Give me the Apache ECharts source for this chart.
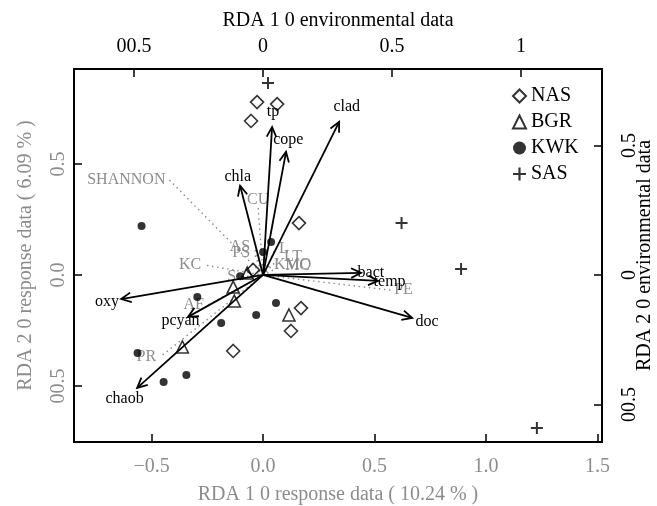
<!DOCTYPE html>
<html>
<head>
<meta charset="utf-8">
<script src="https://cdn.jsdelivr.net/npm/echarts@6.0.0/dist/echarts.min.js"></script>
<style>
  html, body { margin: 0; background: #fff; overflow: hidden; }
  #chart { width: 657px; height: 506px; }
</style>
</head>
<body>
<div id="chart"></div>
<script>
// site scores, response scale (bottom / left axes)
var nasPts = [[-0.027, 0.779], [0.063, 0.770], [-0.054, 0.694], [0.161, 0.234], [-0.045, 0.023], [0.170, -0.149], [0.125, -0.252], [-0.134, -0.342]]
var bgrPts = [[-0.071, 0.009], [-0.134, -0.054], [-0.129, -0.117], [0.116, -0.180], [-0.362, -0.324]]
var kwkPts = [[-0.545, 0.221], [0.036, 0.149], [0.0, 0.104], [-0.103, -0.005], [-0.295, -0.099], [0.058, -0.126], [-0.031, -0.180], [-0.188, -0.216], [-0.563, -0.351], [-0.344, -0.450], [-0.446, -0.482]]
var sasPts = [[0.022, 0.865], [0.621, 0.234], [0.888, 0.027], [1.228, -0.689]]

// black arrows, environmental scale (top / right axes)
var arrowNames = ['tp', 'cope', 'clad', 'chla', 'bact', 'temp', 'doc', 'oxy', 'pcyan', 'chaob']
var arrowScores = [[0.035, 0.571], [0.089, 0.475], [0.295, 0.591], [-0.089, 0.344], [0.380, 0.008], [0.446, -0.023], [0.578, -0.166], [-0.550, -0.093], [-0.291, -0.162], [-0.488, -0.436]]

// grey dotted vectors, response scale
var envNames = ['SHANNON', 'CU', 'AS', 'PS', 'KC', 'S', 'KMO', 'MC', 'L', 'LT', 'AF', 'PR', 'PE']
var envScores = [[-0.420, 0.428], [-0.022, 0.302], [-0.040, 0.126], [-0.040, 0.099], [-0.260, 0.045], [-0.103, -0.009], [0.031, 0.045], [0.081, 0.041], [0.054, 0.117], [0.076, 0.081], [-0.247, -0.135], [-0.462, -0.369], [0.570, -0.068]]

// tick values and their printed labels
var bottomTicks = [-0.5, 0, 0.5, 1, 1.5]
var bottomLabels = ['\u22120.5', '0.0', '0.5', '1.0', '1.5']
var leftTicks = [-0.5, 0, 0.5]
var leftLabels = ['00.5', '0.0', '0.5']
var topTicks = [-0.5, 0, 0.5, 1]
var topLabels = ['00.5', '0', '0.5', '1']
var rightTicks = [-0.5, 0, 0.5]
var rightLabels = ['00.5', '0', '0.5']

var grey = '#8c8c8c'
var serif = '"Liberation Serif", "Times New Roman", serif'

function pick(ticks, labels) {
  return function(v) {
    var i = ticks.indexOf(v)
    return i < 0 ? '' : labels[i]
  }
}

function axis(pos, min, max, ticks, labels, color, name, margin, gap, rot) {
  return {
    type: 'value',
    position: pos,
    min: min,
    max: max,
    splitLine: { show: false },
    axisLine: { onZero: false, lineStyle: { color: '#000', width: 2 } },
    axisTick: { inside: true, length: 8, customValues: ticks, lineStyle: { color: '#000', width: 1.5 } },
    axisLabel: {
      customValues: ticks,
      formatter: pick(ticks, labels),
      color: color,
      fontSize: 20,
      fontFamily: serif,
      margin: margin,
      rotate: rot || 0
    },
    name: name,
    nameLocation: 'middle',
    nameGap: gap,
    nameRotate: rot || 0,
    nameMoveOverlap: false,
    nameTextStyle: { color: color, fontSize: 20, fontFamily: serif }
  }
}

function renderArrow(params, api) {
  var o = api.coord([0, 0])
  var t = api.coord([api.value(0), api.value(1)])
  var ang = Math.atan2(t[1] - o[1], t[0] - o[0])
  var h = 11, a = 0.45
  var p1 = [t[0] - h * Math.cos(ang - a), t[1] - h * Math.sin(ang - a)]
  var p2 = [t[0] - h * Math.cos(ang + a), t[1] - h * Math.sin(ang + a)]
  return {
    type: 'group',
    children: [
      { type: 'line', shape: { x1: o[0], y1: o[1], x2: t[0], y2: t[1] }, style: { stroke: '#000', lineWidth: 1.8 } },
      { type: 'polyline', shape: { points: [p1, t, p2] }, style: { stroke: '#000', lineWidth: 1.8, fill: null } },
      {
        type: 'text',
        x: o[0] + 1.1 * (t[0] - o[0]),
        y: o[1] + 1.1 * (t[1] - o[1]),
        style: { text: arrowNames[params.dataIndex], fill: '#000', fontSize: 16, fontFamily: serif, align: 'center', verticalAlign: 'middle' }
      }
    ]
  }
}

function renderEnv(params, api) {
  var o = api.coord([0, 0])
  var t = api.coord([api.value(0), api.value(1)])
  var dx = t[0] - o[0], dy = t[1] - o[1]
  var lx = t[0], ly = t[1], align = 'center', va = 'middle'
  if (Math.abs(dx) > 0.3 * Math.abs(dy)) {
    align = dx < 0 ? 'right' : 'left'
    lx += dx < 0 ? -4 : 4
  } else {
    va = dy < 0 ? 'bottom' : 'top'
  }
  return {
    type: 'group',
    children: [
      { type: 'line', shape: { x1: o[0], y1: o[1], x2: t[0], y2: t[1] }, style: { stroke: grey, lineWidth: 1.6, lineDash: [0.1, 5], lineCap: 'round' } },
      { type: 'text', x: lx, y: ly, style: { text: envNames[params.dataIndex], fill: grey, fontSize: 16, fontFamily: serif, align: align, verticalAlign: va } }
    ]
  }
}

var chart = echarts.init(document.getElementById('chart'))

chart.setOption({
  animation: false,
  grid: { left: 74, top: 69, right: 55, bottom: 64, containLabel: false, outerBoundsMode: 'none' },
  legend: {
    orient: 'vertical',
    left: 507,
    top: 81,
    itemWidth: 13,
    itemHeight: 13,
    itemGap: 6,
    textStyle: { color: '#000', fontSize: 20, fontFamily: serif, lineHeight: 20 },
    data: ['NAS', 'BGR', 'KWK', 'SAS']
  },
  xAxis: [
    axis('bottom', -0.848, 1.52, bottomTicks, bottomLabels, grey, 'RDA 1 0 response data ( 10.24 % )', 15, 43),
    axis('top', -0.733, 1.314, topTicks, topLabels, '#000', 'RDA 1 0 environmental data', 12, 38)
  ],
  yAxis: [
    axis('left', -0.752, 0.928, leftTicks, leftLabels, grey, 'RDA 2 0 response data ( 6.09 % )', 5, 38, 90),
    axis('right', -0.645, 0.795, rightTicks, rightLabels, '#000', 'RDA 2 0 environmental data', 18, 33, 90)
  ],
  series: [
    { type: 'custom', name: 'env', renderItem: renderEnv, data: envScores, xAxisIndex: 0, yAxisIndex: 0, z: 1 },
    { type: 'custom', name: 'arrows', renderItem: renderArrow, data: arrowScores, xAxisIndex: 1, yAxisIndex: 1, z: 2 },
    {
      type: 'scatter', name: 'NAS', data: nasPts, symbol: 'diamond', symbolSize: 13, z: 3,
      itemStyle: { color: 'rgba(255,255,255,0)', borderColor: '#000', borderWidth: 1.6 }
    },
    {
      type: 'scatter', name: 'BGR', data: bgrPts, symbol: 'triangle', symbolSize: 12, z: 3,
      itemStyle: { color: 'rgba(255,255,255,0)', borderColor: '#000', borderWidth: 1.6 }
    },
    {
      type: 'scatter', name: 'KWK', data: kwkPts, symbol: 'circle', symbolSize: 8, z: 3,
      itemStyle: { color: '#000' }
    },
    {
      type: 'scatter', name: 'SAS', data: sasPts, symbol: 'path://M0,5H12V7H0Z M5,0H7V12H5Z', symbolSize: 12, z: 3,
      itemStyle: { color: '#000' }
    }
  ]
})
</script>
</body>
</html>
